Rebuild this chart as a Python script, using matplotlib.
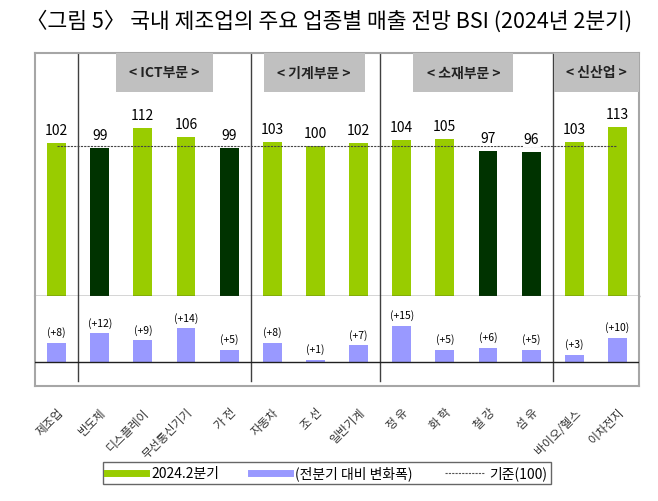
import matplotlib
matplotlib.use("Agg")
import matplotlib.pyplot as plt
from matplotlib.lines import Line2D
from matplotlib.patches import Rectangle

plt.rcParams['font.family'] = ['Noto Sans CJK KR', 'DejaVu Sans']

# data
categories = ['제조업', '반도체', '디스플레이', '무선통신기기', '가 전', '자동차', '조 선',
              '일반기계', '정 유', '화 학', '철 강', '섬 유', '바이오/헬스', '이차전지']
bsi_2024q2 = [102, 99, 112, 106, 99, 103, 100, 102, 104, 105, 97, 96, 103, 113]
change_qoq = [8, 12, 9, 14, 5, 8, 1, 7, 15, 5, 6, 5, 3, 10]
groups = ['< ICT부문 >', '< 기계부문 >', '< 소재부문 >', '< 신산업 >']
group_spans = [(1.37, 3.62), (4.8, 7.14), (8.27, 10.59), (11.52, 13.5)]
separators = [0.5, 4.5, 7.5, 11.5]
baseline = 100

LIGHT = '#99CC00'
DARK = '#003300'
BLUE = '#9999FF'
FRAME = '#A6A6A6'

W, H = 658, 502
fig = plt.figure(figsize=(W / 100, H / 100), dpi=100)

def px_axes(x0, y0, x1, y1):
    return fig.add_axes([x0 / W, 1 - y1 / H, (x1 - x0) / W, (y1 - y0) / H])

ax1 = px_axes(35, 54, 639, 297)
ax2 = px_axes(35, 297, 639, 387)

x = list(range(len(categories)))

# upper panel: BSI
colors = [LIGHT if v >= baseline else DARK for v in bsi_2024q2]
ax1.bar(x, bsi_2024q2, width=0.44, color=colors, zorder=2)
ax1.set_xlim(-0.5, len(categories) - 0.5)
ax1.set_ylim(0, 162)
ax1.plot([0, len(categories) - 1], [baseline, baseline], color='#444444',
         lw=0.8, ls=(0, (2, 1)), zorder=3)
for xi, v in zip(x, bsi_2024q2):
    ax1.annotate(str(v), (xi, v), xytext=(0, 4), textcoords='offset points',
                 ha='center', va='bottom', fontsize=10, zorder=5,
                 bbox=dict(facecolor='white', edgecolor='none', pad=0.5))
for s in separators:
    ax1.axvline(s, color='#404040', lw=1, zorder=1)
for name, (a, b) in zip(groups, group_spans):
    ax1.add_patch(Rectangle((a, 136), b - a, 26, facecolor='#C0C0C0',
                            edgecolor='none', zorder=4))
    ax1.text((a + b) / 2, 149, name, ha='center', va='center',
             fontsize=10, fontweight='bold', color='#222222', zorder=5)
ax1.set_yticks([])
ax1.set_xticks([i + 0.5 for i in x[:-1]])
ax1.tick_params(axis='x', length=2, direction='out', labelbottom=False,
                color='#404040')
for side in ['left', 'top', 'right']:
    ax1.spines[side].set_color(FRAME)
    ax1.spines[side].set_linewidth(1.5)
ax1.spines['bottom'].set_color('#303030')
ax1.spines['bottom'].set_linewidth(1)

# lower panel: change vs previous quarter
ax2.bar(x, change_qoq, width=0.44, color=BLUE, zorder=2)
ax2.set_xlim(-0.5, len(categories) - 0.5)
ax2.set_ylim(-10, 27.5)
ax2.axhline(0, color='#202020', lw=1, zorder=3)
for xi, v in zip(x, change_qoq):
    ax2.annotate(f'(+{v})', (xi, v), xytext=(0, 4), textcoords='offset points',
                 ha='center', va='bottom', fontsize=7.5)
for s in separators:
    ax2.plot([s, s], [-8, 27.5], color='#404040', lw=1, zorder=1)
ax2.set_yticks([])
ax2.set_xticks(x)
ax2.set_xticklabels(categories, rotation=45, ha='right', rotation_mode='anchor',
                    fontsize=8.5, color='#333333')
ax2.tick_params(axis='x', length=0, pad=14)
ax2.spines['top'].set_visible(False)
for side in ['left', 'bottom', 'right']:
    ax2.spines[side].set_color(FRAME)
    ax2.spines[side].set_linewidth(1.5)

# title
fig.text(0.5, 1 - 22 / H, '〈그림 5〉 국내 제조업의 주요 업종별 매출 전망 BSI (2024년 2분기)',
         ha='center', va='center', fontsize=15.5)

# legend
handles = [Line2D([], [], color=LIGHT, lw=5),
           Line2D([], [], color=BLUE, lw=5),
           Line2D([], [], color='#555555', lw=0.8, ls=(0, (2, 1)))]
labels = ['2024.2분기', '(전분기 대비 변화폭)', '기준(100)']
leg = fig.legend(handles, labels, loc='center', ncol=3,
                 bbox_to_anchor=(327 / W, 1 - 474 / H), fontsize=10,
                 frameon=True, fancybox=False, handlelength=2.8,
                 columnspacing=2.3, borderpad=0.25, handletextpad=0.4)
leg.get_frame().set_edgecolor('#404040')
leg.get_frame().set_linewidth(1)

fig.savefig('out.png', dpi=100)
